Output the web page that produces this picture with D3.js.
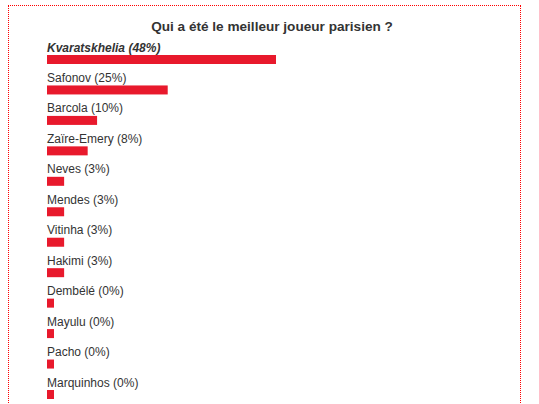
<!DOCTYPE html>
<html>
<head>
<meta charset="utf-8">
<script src="https://cdnjs.cloudflare.com/ajax/libs/d3/7.8.5/d3.min.js"></script>
<style>
  body { margin: 0; background: #fff; overflow: hidden; }
  .frame {
    position: absolute; left: 8px; top: 5px; width: 511px; height: 420px;
    border: 1px dotted #ff0000;
  }
  svg { display: block; position: absolute; left: 0; top: 0; }
</style>
</head>
<body>
<div class="frame"></div>
<svg id="poll-chart" width="539" height="404"></svg>
<script>
// poll results
const players = ['Kvaratskhelia', 'Safonov', 'Barcola', 'Zaïre-Emery', 'Neves', 'Mendes',
  'Vitinha', 'Hakimi', 'Dembélé', 'Mayulu', 'Pacho', 'Marquinhos'];
const percents = [48, 25, 10, 8, 3, 3, 3, 3, 0, 0, 0, 0];
const title = 'Qui a été le meilleur joueur parisien ?';

const data = players.map((name, i) => ({name: name, pct: percents[i]}));

const svgElement = d3.select('svg#poll-chart');

svgElement.append('text')
  .attr('x', 272)
  .attr('y', 30.5)
  .attr('text-anchor', 'middle')
  .style('font', 'bold 13.6px "Liberation Sans", Arial, sans-serif')
  .style('fill', '#333')
  .text(title);

const x = d3.scaleLinear().domain([0, 48]).range([3, 229]);
const y = d3.scalePoint().domain(players).range([55, 390]);
const minBar = 7;
const left = 47;

const row = svgElement.selectAll('.row')
  .data(data)
  .enter().append('g')
  .attr('class', 'row')
  .attr('transform', d => `translate(${left}, ${y(d.name)})`);

row.append('text')
  .attr('x', 0)
  .attr('y', -3.5)
  .style('font', (d, i) => (i === 0 ? 'italic bold ' : '') + '12px "Liberation Sans", Arial, sans-serif')
  .style('fill', '#333')
  .text(d => `${d.name} (${d.pct}%)`);

row.append('rect')
  .attr('x', 0)
  .attr('y', 0)
  .attr('width', d => Math.max(minBar, x(d.pct)))
  .attr('height', 9)
  .attr('fill', '#e8192c');
</script>
</body>
</html>
